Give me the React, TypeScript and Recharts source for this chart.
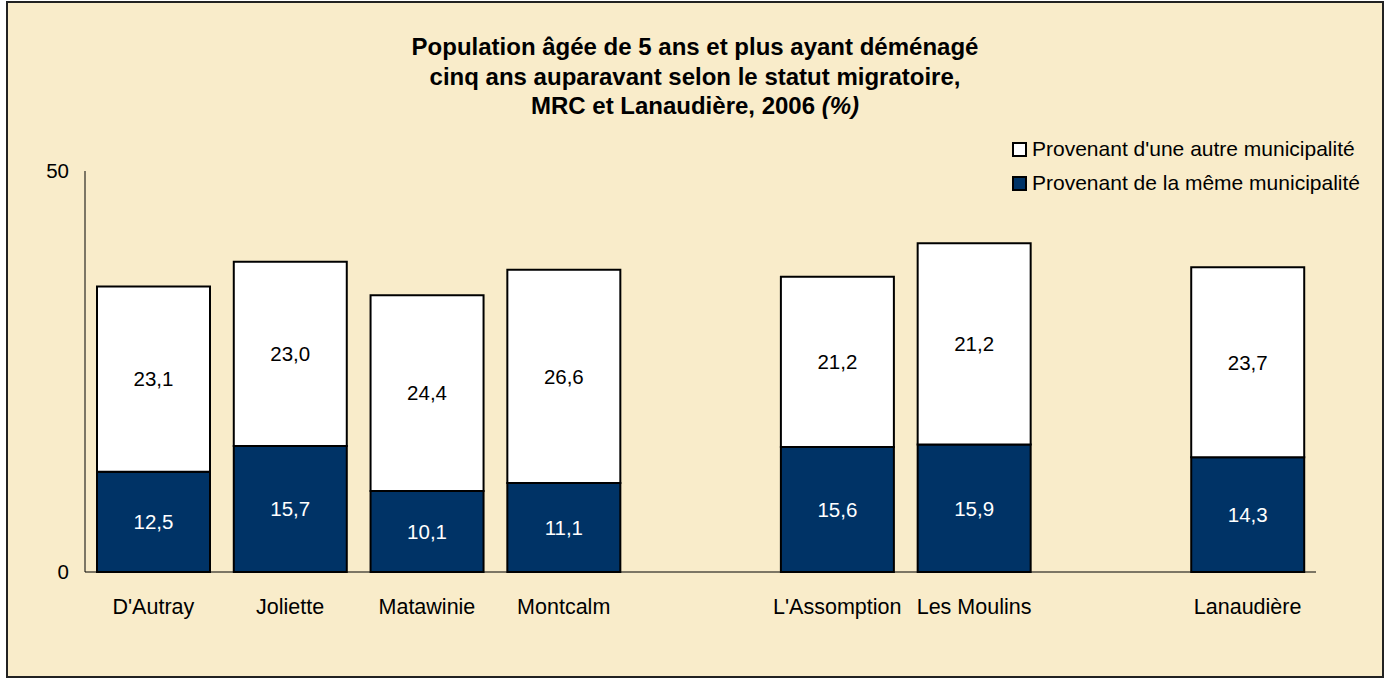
import React from 'react';
import { BarChart, Bar, XAxis, YAxis, LabelList } from 'recharts';

// empty names keep the gaps between the MRC groups and the region total
const categories = ["D'Autray", 'Joliette', 'Matawinie', 'Montcalm', '', "L'Assomption", 'Les Moulins', '', 'Lanaudière'];
const memeMunicipalite = [12.5, 15.7, 10.1, 11.1, null, 15.6, 15.9, null, 14.3];
// bar heights as drawn (Les Moulins is drawn taller than its printed label)
const autreMunicipalite = [23.1, 23.0, 24.4, 26.6, null, 21.2, 25.1, null, 23.7];
const autreLabels = ['23,1', '23,0', '24,4', '26,6', '', '21,2', '21,2', '', '23,7'];
const yTicks = [0, 50];

const data = categories.map((name, i) => ({
  name,
  meme: memeMunicipalite[i],
  autre: autreMunicipalite[i],
  autreLabel: autreLabels[i],
}));

const FONT = '"Liberation Sans", Arial, sans-serif';
const NAVY = '#003366';

const fmt = (v: any) => (v == null ? '' : Number(v).toFixed(1).replace('.', ','));

function LegendRow({ color, label }: { color: string; label: string }) {
  return (
    <div style={{ display: 'flex', alignItems: 'center', height: 34 }}>
      <span
        style={{
          width: 11,
          height: 11,
          background: color,
          border: '2px solid #000',
          marginRight: 5,
          display: 'inline-block',
          flexShrink: 0,
        }}
      />
      <span style={{ whiteSpace: 'nowrap' }}>{label}</span>
    </div>
  );
}

export default function App() {
  return (
    <div
      style={{
        position: 'absolute',
        left: 6,
        top: 1,
        width: 1374,
        height: 673,
        border: '2px solid #222',
        background: '#f9ecca',
        fontFamily: FONT,
      }}
    >
      <div
        style={{
          position: 'absolute',
          top: 29,
          left: 0,
          width: '100%',
          textAlign: 'center',
          fontWeight: 'bold',
          fontSize: 24,
          lineHeight: '29.5px',
          color: '#000',
        }}
      >
        <div>Population âgée de 5 ans et plus ayant déménagé</div>
        <div>cinq ans auparavant selon le statut migratoire,</div>
        <div>
          MRC et Lanaudière, 2006 <i>(%)</i>
        </div>
      </div>

      <div style={{ position: 'absolute', left: 1004, top: 129, fontSize: 21, color: '#000' }}>
        <LegendRow color="#ffffff" label="Provenant d'une autre municipalité" />
        <LegendRow color={NAVY} label="Provenant de la même municipalité" />
      </div>

      <BarChart
        width={1374}
        height={673}
        data={data}
        margin={{ top: 168, right: 66, bottom: 64, left: 0 }}
        style={{ position: 'absolute', left: 0, top: 0 }}
      >
        <XAxis
          dataKey="name"
          height={40}
          axisLine={{ stroke: '#000', strokeWidth: 1 }}
          tickLine={false}
          tickSize={0}
          tickMargin={27}
          interval={0}
          tick={{ fill: '#000', fontSize: 21.5, fontFamily: FONT }}
        />
        <YAxis
          width={77}
          domain={[0, 50]}
          ticks={yTicks}
          axisLine={{ stroke: '#000', strokeWidth: 1 }}
          tickLine={false}
          tickSize={0}
          tickMargin={16}
          tick={{ fill: '#000', fontSize: 20.5, fontFamily: FONT }}
        />
        <Bar dataKey="meme" stackId="a" fill={NAVY} stroke="#000" strokeWidth={2} barSize={113} isAnimationActive={false}>
          <LabelList dataKey="meme" position="center" formatter={fmt} fill="#fff" fontSize={20.5} fontFamily={FONT} />
        </Bar>
        <Bar dataKey="autre" stackId="a" fill="#fff" stroke="#000" strokeWidth={2} barSize={113} isAnimationActive={false}>
          <LabelList dataKey="autreLabel" position="center" fill="#000" fontSize={20.5} fontFamily={FONT} />
        </Bar>
      </BarChart>
    </div>
  );
}
